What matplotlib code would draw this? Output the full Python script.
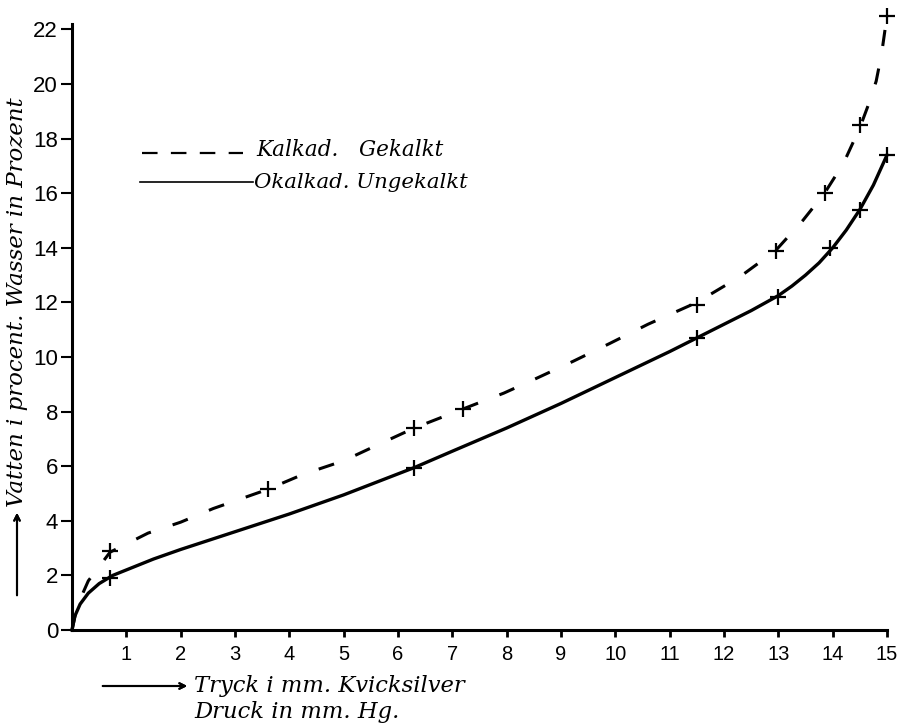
import numpy as np
import matplotlib.pyplot as plt
from matplotlib.lines import Line2D

# curves as drawn
kalk_x = [0, 0.1, 0.3, 0.7, 1.4, 2.0, 2.6, 3.6, 4.25, 5.0, 5.7, 6.3, 7.2, 7.95, 8.56,
          9.23, 9.9, 10.6, 11.5, 12.3, 12.95, 13.45, 13.85, 14.2, 14.5, 14.65, 14.8, 14.9, 15.0]
kalk_y = [0, 0.9, 1.8, 2.85, 3.55, 3.95, 4.45, 5.15, 5.7, 6.2, 6.85, 7.4, 8.1, 8.68, 9.23,
          9.85, 10.5, 11.2, 12.0, 12.95, 13.9, 15.0, 16.0, 17.1, 18.4, 19.2, 20.1, 21.1, 22.5]
okalk_x = [0, 0.05, 0.15, 0.3, 0.5, 0.75, 1.0, 1.5, 2.0, 3.0, 4.0, 5.0, 6.3, 7.0, 8.0,
           9.0, 10.0, 11.0, 11.5, 12.0, 12.5, 13.0, 13.25, 13.5, 13.75, 14.0, 14.25,
           14.5, 14.75, 15.0]
okalk_y = [0, 0.5, 0.95, 1.35, 1.7, 2.0, 2.2, 2.6, 2.95, 3.6, 4.25, 4.95, 5.95, 6.55, 7.4,
           8.3, 9.25, 10.2, 10.7, 11.2, 11.7, 12.25, 12.6, 13.0, 13.45, 14.0, 14.65,
           15.4, 16.3, 17.4]

# measured points (+ marks)
kalk_px = [0.7, 3.6, 6.3, 7.2, 11.5, 12.95, 13.85, 14.5, 15.0]
kalk_py = [2.9, 5.15, 7.4, 8.1, 11.9, 13.9, 16.0, 18.5, 22.5]
okalk_px = [0.7, 6.3, 11.5, 13.0, 13.95, 14.5, 15.0]
okalk_py = [1.9, 5.95, 10.7, 12.2, 14.0, 15.4, 17.4]

xticks = list(range(1, 16))
yticks = list(range(0, 23, 2))

serif = ['DejaVu Serif']
sans = ['Liberation Sans', 'DejaVu Sans']

fig = plt.figure(figsize=(8.99, 7.28), dpi=100)
ax = fig.add_axes([72 / 899, 1 - 630 / 728, (887 - 72) / 899, (630 - 24) / 728])

ax.plot(kalk_x, kalk_y, color='black', lw=2.2, dashes=(5.3, 7.5), clip_on=False)
ax.plot(okalk_x, okalk_y, color='black', lw=2.4, clip_on=False)
ax.plot(kalk_px, kalk_py, ls='none', marker='+', ms=12, mew=1.6, color='black', clip_on=False)
ax.plot(okalk_px, okalk_py, ls='none', marker='+', ms=12, mew=1.6, color='black', clip_on=False)

ax.set_xlim(0, 15)
ax.set_ylim(0, 22.2)
ax.set_xticks(xticks)
ax.set_yticks(yticks)
ax.set_xticklabels([str(t) for t in xticks], family=sans, fontsize=14.5)
ax.set_yticklabels([str(t) for t in yticks], family=sans, fontsize=16)
ax.tick_params(axis='x', direction='out', length=5, width=2, pad=6)
ax.tick_params(axis='y', direction='out', length=8, width=1.5, pad=2)

for s in ['top', 'right']:
    ax.spines[s].set_visible(False)
for s in ['left', 'bottom']:
    ax.spines[s].set_linewidth(2.2)

# legend drawn by hand like the original
fig.add_artist(Line2D([142 / 899, 243 / 899], [1 - 153 / 728] * 2, color='black', lw=1.6, dashes=(7, 6)))
fig.add_artist(Line2D([140 / 899, 253 / 899], [1 - 182 / 728] * 2, color='black', lw=1.2))
fig.text(256 / 899, 1 - 150 / 728, 'Kalkad.   Gekalkt', family=serif, style='italic', fontsize=15.5, va='center')
fig.text(254 / 899, 1 - 182 / 728, 'Okalkad. Ungekalkt', family=serif, style='italic', fontsize=15.3, va='center')

# axis labels with arrows
fig.text(17 / 899, 1 - 302 / 728, 'Vatten i procent. Wasser in Prozent', family=serif, style='italic',
         fontsize=16.5, rotation=90, ha='center', va='center')
fig.add_artist(plt.annotate('', xy=(17 / 899, 1 - 510 / 728), xytext=(17 / 899, 1 - 598 / 728),
                            xycoords='figure fraction',
                            arrowprops=dict(arrowstyle='->', lw=1.5, color='black')))
fig.add_artist(plt.annotate('', xy=(190 / 899, 1 - 686 / 728), xytext=(100 / 899, 1 - 686 / 728),
                            xycoords='figure fraction',
                            arrowprops=dict(arrowstyle='->', lw=1.5, color='black')))
fig.text(194 / 899, 1 - 686 / 728, 'Tryck i mm. Kvicksilver', family=serif, style='italic', fontsize=16.3, va='center')
fig.text(194 / 899, 1 - 712 / 728, 'Druck in mm. Hg.', family=serif, style='italic', fontsize=16.3, va='center')

fig.savefig('out.png', dpi=100)
